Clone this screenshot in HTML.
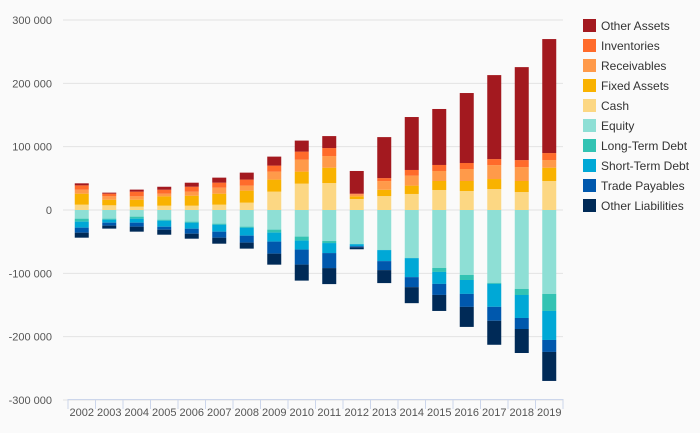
<!DOCTYPE html>
<html><head><meta charset="utf-8"><style>
body{margin:0;background:#fafafa;font-family:"Liberation Sans",sans-serif}
svg{display:block}
</style></head><body>
<svg id="c" width="700" height="433"></svg>
<script>
const years=[2002,2003,2004,2005,2006,2007,2008,2009,2010,2011,2012,2013,2014,2015,2016,2017,2018,2019];
const seriesNames=["Other Assets","Inventories","Receivables","Fixed Assets","Cash","Equity","Long-Term Debt","Short-Term Debt","Trade Payables","Other Liabilities"];
const colors=["#a3191f","#ff6b2b","#ff9a4a","#f9b200","#fcd783","#8edfd5","#33c3b3","#00a8d6","#0058ad","#002a57"];
const cash=[8.4,7.4,5.3,6.8,6.8,8.4,11.6,29,41.6,42.6,17.4,22,25.3,31.6,30,33.1,28.4,45.8];
const fixedAssets=[17.4,8.9,11,14.7,15.8,17.4,19,19,19,24.2,4.2,10,13.2,14.2,15.8,15.8,17.4,21];
const receivables=[6.3,5.3,5.3,4.2,6.3,9.5,7.9,12.6,19,18.4,3.2,13.7,15.8,15.8,18.9,22,22,12.1];
const inventories=[6.8,4.2,7.4,6.3,7.9,7.9,9.5,9.5,12.6,12.6,1,4.7,8.9,9.5,9.5,9.5,11,11];
const otherAssets=[3.2,1.6,3.2,4.7,6.3,7.9,11,14.2,17.4,18.9,35.8,64.7,83.6,88.4,110.5,132.6,146.8,180];
const equity=[13.7,13.7,10.5,15.3,18.4,21.6,26.3,31,42,49,53.7,63,75.7,91.5,102.6,115,124.7,132.6];
const longTermDebt=[4.7,1.6,3.2,1.6,1.6,1.6,1.6,4.7,6.3,3.2,0.3,0.3,0.3,6.3,7.9,1.6,9.5,26.8];
const shortTermDebt=[9.5,4.7,6.3,9.5,9.5,11,12.6,14.2,14.2,15.8,3.2,17.4,30,18.9,22,36.3,36.3,45.8];
const tradePayables=[7.9,4.7,6.3,4.7,7.9,9.5,11,19,23.7,23.7,1.6,14.2,15.8,17.4,20.5,22,17.4,18.9];
const otherLiabilities=[7.9,4.7,7.9,7.9,7.9,9.5,9.5,17.4,25.3,25.3,3.2,20.5,25.3,25.3,31.6,37.9,37.9,45.8];
const yTicks=[300,200,100,0,-100,-200,-300];
const yTickLabels=["300 000","200 000","100 000","0","-100 000","-200 000","-300 000"];

const svg=document.getElementById('c');
const NS="http://www.w3.org/2000/svg";
const X0=68,X1=563,Y0=210,PX=190/300;
const band=(X1-X0)/years.length;
const xPos=i=>X0+band*(i+0.5);
const yPos=v=>Y0-v*PX;
function mk(t,a){const e=document.createElementNS(NS,t);for(const k in a)e.setAttribute(k,a[k]);svg.appendChild(e);return e;}

yTicks.forEach((t,i)=>{
  const g=mk('line',{x1:X0-5,x2:X1,y1:yPos(t),y2:yPos(t),stroke:'#e3e3e3','stroke-width':1});
  
  
  const l=mk('text',{x:52,y:yPos(t)+4,'text-anchor':'end','font-size':11,fill:'#555'});
  l.textContent=yTickLabels[i];
  
  
});
const ax=mk('line',{x1:X0,x2:X1,y1:399.5,y2:399.5,stroke:'#ccd6eb'});


for(let i=0;i<=years.length;i++){
  const tk=mk('line',{x1:X0+band*i,x2:X0+band*i,y1:399,y2:409,stroke:'#ccd6eb'});
  
  
}
years.forEach((y,i)=>{
  const l=mk('text',{x:xPos(i),y:416,'text-anchor':'middle','font-size':11,fill:'#555'});
  l.textContent=y;
  
  
});
const pos=[cash,fixedAssets,receivables,inventories,otherAssets];
const posIdx=[4,3,2,1,0];
const neg=[equity,longTermDebt,shortTermDebt,tradePayables,otherLiabilities];
const negIdx=[5,6,7,8,9];
years.forEach((y,i)=>{
  let acc=0;
  pos.forEach((s,k)=>{
    const a=yPos(acc),b=yPos(acc+s[i]);acc+=s[i];
    const r=mk('rect',{x:xPos(i)-7,y:b,width:14,height:a-b,fill:colors[posIdx[k]]});
    
    
  });
  acc=0;
  neg.forEach((s,k)=>{
    const a=yPos(-acc),b=yPos(-acc-s[i]);acc+=s[i];
    const r=mk('rect',{x:xPos(i)-7,y:a,width:14,height:b-a,fill:colors[negIdx[k]]});
    
    
  });
});
seriesNames.forEach((n,i)=>{
  const yy=25+i*20;
  const r=mk('rect',{x:583,y:yy-6,width:13,height:13,fill:colors[i]});
  
  
  const t=mk('text',{x:601,y:yy+5,'font-size':12,fill:'#333'});
  t.textContent=n;
  
  
});
</script>
</body></html>
